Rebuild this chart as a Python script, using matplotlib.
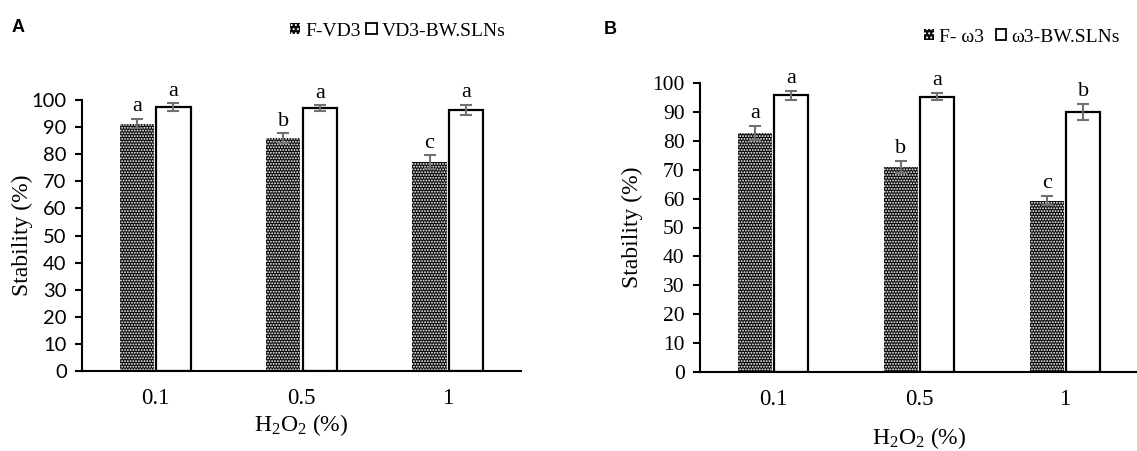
import numpy as np
import matplotlib
matplotlib.use('Agg')
import matplotlib.pyplot as plt
from matplotlib.patches import Patch

# Data
conc = ['0.1', '0.5', '1']

a_free = [91.3, 85.9, 77.0]
a_free_err = [1.7, 1.8, 2.6]
a_sln = [97.4, 97.0, 96.3]
a_sln_err = [1.4, 1.0, 1.9]
a_free_letters = ['a', 'b', 'c']
a_sln_letters = ['a', 'a', 'a']

b_free = [82.8, 71.0, 59.3]
b_free_err = [2.4, 2.1, 1.6]
b_sln = [95.8, 95.3, 90.1]
b_sln_err = [1.6, 1.2, 2.8]
b_free_letters = ['a', 'b', 'c']
b_sln_letters = ['a', 'a', 'b']

plt.rcParams['hatch.linewidth'] = 0.9
plt.rcParams['mathtext.fontset'] = 'custom'
plt.rcParams['mathtext.rm'] = 'Liberation Serif'
plt.rcParams['mathtext.it'] = 'Liberation Serif:italic'
serif = 'Liberation Serif'
dark = '#0a0a0a'

W, H = 1137, 451
fig = plt.figure(figsize=(W / 100, H / 100), dpi=100)


def px_axes(left, top, right, bottom):
    return fig.add_axes([left / W, 1 - bottom / H, (right - left) / W, (bottom - top) / H])


def draw_panel(ax, free, free_err, sln, sln_err, fl, sl, tickfont, ticksize):
    x = np.arange(len(conc)) + 0.5
    w = 0.235
    ax.bar(x - 0.125, free, w, color=dark, edgecolor='white', hatch='......', linewidth=0)
    ax.bar(x + 0.125, sln, w, color='white', edgecolor='black', linewidth=1.6)
    ax.errorbar(x - 0.125, free, yerr=free_err, fmt='none', ecolor='#707070', capsize=4, elinewidth=1.5, capthick=1.5)
    ax.errorbar(x + 0.125, sln, yerr=sln_err, fmt='none', ecolor='#707070', capsize=4, elinewidth=1.5, capthick=1.5)
    for i in range(len(conc)):
        ax.text(x[i] - 0.125, free[i] + free_err[i] + 1.0, fl[i], ha='center', va='bottom',
                fontsize=16, family=serif)
        ax.text(x[i] + 0.125, sln[i] + sln_err[i] + 1.0, sl[i], ha='center', va='bottom',
                fontsize=16, family=serif)
    ax.set_xlim(0, 3)
    ax.set_ylim(0, 100)
    ax.set_yticks(range(0, 101, 10))
    ax.set_xticks(x)
    ax.set_xticklabels(conc, fontsize=16.5, family=serif)
    for lbl in ax.get_yticklabels():
        lbl.set_family(tickfont)
        lbl.set_fontsize(ticksize)
    ax.tick_params(axis='x', length=0, pad=12)
    ax.tick_params(axis='y', length=5, width=1.5, direction='out', pad=6)
    for s in ['top', 'right']:
        ax.spines[s].set_visible(False)
    ax.spines['left'].set_linewidth(1.5)
    ax.spines['bottom'].set_linewidth(1.5)
    ax.set_ylabel('Stability (%)', fontsize=17, family=serif, va='center')
    ax.set_xlabel(r'H$_\mathrm{2}$O$_\mathrm{2}$ (%)', fontsize=17, family=serif, va='center')


axA = px_axes(82, 100, 521, 371)
draw_panel(axA, a_free, a_free_err, a_sln, a_sln_err, a_free_letters, a_sln_letters, 'Lato', 14.5)
axA.xaxis.set_label_coords(0.5, -0.2)
axA.yaxis.set_label_coords(-0.135, 0.5)

axB = px_axes(700, 83, 1138, 372)
draw_panel(axB, b_free, b_free_err, b_sln, b_sln_err, b_free_letters, b_sln_letters, serif, 15.5)
axB.xaxis.set_label_coords(0.5, -0.228)
axB.yaxis.set_label_coords(-0.155, 0.5)

fig.text(12 / W, 1 - 27 / H, 'A', fontsize=13, fontweight='bold', family='Liberation Sans', va='center')
fig.text(604 / W, 1 - 29 / H, 'B', fontsize=13, fontweight='bold', family='Liberation Sans', va='center')

legA = [Patch(facecolor=dark, edgecolor='white', hatch='....', linewidth=0, label='F-VD3'),
        Patch(facecolor='white', edgecolor='black', linewidth=1.3, label='VD3-BW.SLNs')]
fig.legend(handles=legA, loc='center left', bbox_to_anchor=(272 / W, 1 - 31 / H), ncol=2, frameon=False,
           handlelength=0.55, handleheight=0.55, handletextpad=0.25, columnspacing=0.3,
           prop={'family': serif, 'size': 14})

legB = [Patch(facecolor=dark, edgecolor='white', hatch='....', linewidth=0, label='F- \u03c93'),
        Patch(facecolor='white', edgecolor='black', linewidth=1.3, label='\u03c93-BW.SLNs')]
fig.legend(handles=legB, loc='center left', bbox_to_anchor=(906 / W, 1 - 37 / H), ncol=2, frameon=False,
           handlelength=0.55, handleheight=0.55, handletextpad=0.25, columnspacing=0.6,
           prop={'family': serif, 'size': 14})

fig.savefig('out.png', dpi=100)
